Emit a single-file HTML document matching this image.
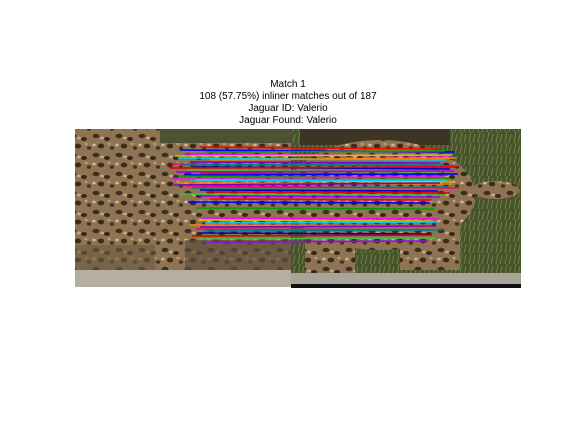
<!DOCTYPE html>
<html><head><meta charset="utf-8"><style>
html,body{margin:0;padding:0;background:#fff;width:576px;height:432px;overflow:hidden}
svg{display:block}
text{font-family:"Liberation Sans",sans-serif;font-size:10px;fill:#000}
</style></head><body>
<svg width="576" height="432">
<defs>
<pattern id="spots" width="23" height="19" patternUnits="userSpaceOnUse">
<rect width="23" height="19" fill="#8e7452"/>
<ellipse cx="4" cy="3" rx="3.5" ry="2.2" fill="#3e2e1e"/>
<ellipse cx="15" cy="6" rx="3" ry="2" fill="#35281a"/>
<ellipse cx="9" cy="13" rx="3.2" ry="2.4" fill="#3a2b1c"/>
<ellipse cx="20" cy="15" rx="2.2" ry="1.8" fill="#453322"/>
<ellipse cx="10" cy="5" rx="2" ry="1.4" fill="#c2aa84"/>
<ellipse cx="2" cy="12" rx="1.8" ry="1.4" fill="#cdb994"/>
<ellipse cx="17" cy="11" rx="1.6" ry="1.2" fill="#b79e78"/>
</pattern>
<pattern id="grass" width="9" height="11" patternUnits="userSpaceOnUse">
<rect width="9" height="11" fill="#46532c"/>
<path d="M1 11 L3 0 M5 11 L7 2" stroke="#71803f" stroke-width="1"/>
</pattern>
</defs>
<g>
<text x="288" y="87" text-anchor="middle">Match 1</text>
<text x="288" y="99" text-anchor="middle">108 (57.75%) inliner matches out of 187</text>
<text x="288" y="111" text-anchor="middle">Jaguar ID: Valerio</text>
<text x="288" y="123" text-anchor="middle">Jaguar Found: Valerio</text>
</g>
<g>
<rect x="75" y="129" width="216" height="158" fill="url(#spots)"/>
<rect x="160" y="129" width="131" height="14" fill="#4f5134"/>
<rect x="75" y="245" width="80" height="25" fill="#6a5a42" opacity="0.6"/>
<rect x="185" y="240" width="106" height="30" fill="#5e5040" opacity="0.7"/>
<rect x="291" y="129" width="230" height="158" fill="url(#grass)"/>
<rect x="300" y="129" width="150" height="16" fill="#3c3526"/>
<ellipse cx="380" cy="195" rx="95" ry="55" fill="url(#spots)"/>
<rect x="305" y="220" width="50" height="55" fill="url(#spots)"/>
<rect x="400" y="220" width="60" height="50" fill="url(#spots)"/>
<ellipse cx="495" cy="190" rx="24" ry="9" fill="url(#spots)"/>
<rect x="75" y="270" width="216" height="17" fill="#b5afa3"/>
<rect x="291" y="273" width="230" height="11" fill="#a9a499"/>
<rect x="291" y="284" width="230" height="4" fill="#111"/>
</g>
<g id="lines"></g>
</svg>
<script>
const x1=[200,180,205,185,175,178,210,190,172,182,195,170,188,176,200,184,178,172,196,190,180,174,186,192,200,206,180,198,210,188,196,202,198,205,190,200,196,204,200,192,198,206];
const y1=[147,150,152,154,156,158,160,162,164,165,167,168,170,172,173,175,176,178,180,181,183,185,186,188,190,192,194,196,199,202,208,218,220,223,225,227,229,231,233,236,239,242];
const x2=[440,455,445,450,452,446,456,440,458,444,450,455,442,454,448,458,450,444,455,446,452,440,457,448,438,450,446,440,432,430,435,440,430,438,432,436,430,442,428,432,436,428];
const y2=[149,152,151,156,155,160,158,163,166,164,169,167,172,171,175,174,178,177,182,180,184,183,188,187,191,193,195,197,200,203,209,219,221,222,226,226,230,230,234,235,238,241];
const colors=["#ff0000","#0000ff","#00a000","#ff00ff","#c8c800","#00c8ff","#ff8000","#8000c0","#ff0080","#008080","#0000c0","#e00000","#40c040","#a000ff"];
const g=document.getElementById('lines');
for(let i=0;i<x1.length;i++){
  const l=document.createElementNS('http://www.w3.org/2000/svg','line');
  l.setAttribute('x1',x1[i]);l.setAttribute('y1',y1[i]);
  l.setAttribute('x2',x2[i]);l.setAttribute('y2',y2[i]);
  l.setAttribute('stroke',colors[i%colors.length]);
  l.setAttribute('stroke-width','1.6');
  
  
  g.appendChild(l);
}
</script>
</body></html>
